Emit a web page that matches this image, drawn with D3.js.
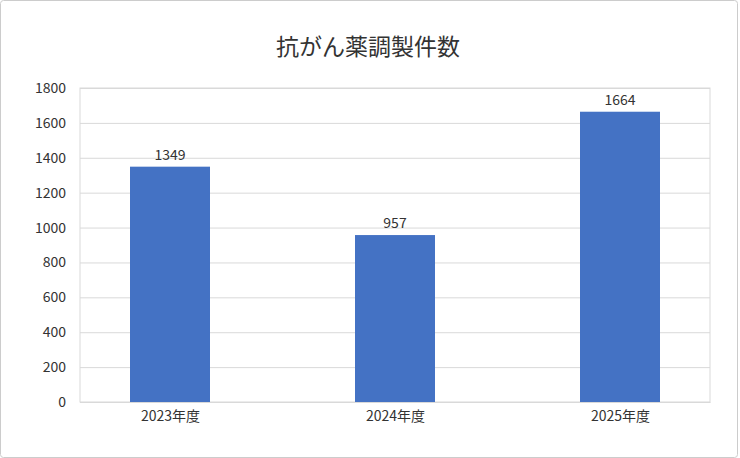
<!DOCTYPE html>
<html>
<head>
<meta charset="utf-8">
<script src="https://cdn.jsdelivr.net/npm/d3@7"></script>
<style>
  body { margin: 0; background: #fff; }
  svg { display: block; font-family: "Noto Sans CJK JP", "Noto Sans", sans-serif; }
</style>
</head>
<body>
<div id="chart"></div>
<script>
const categories = ['2023年度', '2024年度', '2025年度'];
const counts = [1349, 957, 1664];
const yTicks = [0, 200, 400, 600, 800, 1000, 1200, 1400, 1600, 1800];
const title = '抗がん薬調製件数';

const width = 740;
const height = 458;
const margin = { top: 88, right: 30, bottom: 56, left: 80 };
const barWidth = 80;
const barColor = '#4472c4';
const textColor = '#333';
const gridColor = '#d9d9d9';

const svg = d3
  .select('#chart')
  .append('svg')
  .attr('width', width)
  .attr('height', height);

// outer frame
svg
  .append('rect')
  .attr('x', 0.5)
  .attr('y', 0.5)
  .attr('width', width - 3)
  .attr('height', height - 1)
  .attr('rx', 3)
  .attr('fill', '#fff')
  .attr('stroke', '#cccccc');

svg
  .append('text')
  .attr('x', width / 2 - 2)
  .attr('y', 55)
  .attr('text-anchor', 'middle')
  .attr('font-size', 23)
  .attr('fill', textColor)
  .text(title);

const x = d3
  .scalePoint()
  .domain(categories)
  .range([margin.left, width - margin.right])
  .padding(0.4);

const y = d3
  .scaleLinear()
  .domain([0, 1800])
  .range([height - margin.bottom, margin.top]);

// grid + y labels
const yAxis = svg
  .append('g')
  .attr('transform', `translate(${margin.left},0)`)
  .call(
    d3
      .axisLeft(y)
      .tickValues(yTicks)
      .tickFormat(d3.format('d'))
      .tickSize(-(width - margin.left - margin.right))
      .tickPadding(14)
  );
yAxis.select('.domain').remove();
yAxis.selectAll('.tick line').attr('stroke', gridColor);
yAxis
  .selectAll('.tick text')
  .attr('font-size', 14)
  .attr('fill', textColor)
  .attr('font-family', '"Noto Sans CJK JP", sans-serif');

// plot frame
svg
  .append('rect')
  .attr('x', margin.left)
  .attr('y', margin.top)
  .attr('width', width - margin.left - margin.right)
  .attr('height', height - margin.top - margin.bottom)
  .attr('fill', 'none')
  .attr('stroke', gridColor);

svg
  .append('g')
  .selectAll('rect')
  .data(counts)
  .join('rect')
  .attr('x', (d, i) => x(categories[i]) - barWidth / 2)
  .attr('y', (d) => y(d))
  .attr('width', barWidth)
  .attr('height', (d) => y(0) - y(d))
  .attr('fill', barColor);

svg
  .append('g')
  .selectAll('text')
  .data(counts)
  .join('text')
  .attr('x', (d, i) => x(categories[i]))
  .attr('y', (d) => y(d) - 7)
  .attr('text-anchor', 'middle')
  .attr('font-size', 14)
  .attr('fill', textColor)
  .text((d) => d);

// x labels
const xAxis = svg
  .append('g')
  .attr('transform', `translate(0,${height - margin.bottom})`)
  .call(d3.axisBottom(x).tickSize(0).tickPadding(9));
xAxis.select('.domain').attr('stroke', gridColor);
xAxis
  .selectAll('.tick text')
  .attr('font-size', 14)
  .attr('fill', textColor)
  .attr('font-family', '"Noto Sans CJK JP", sans-serif');
</script>
</body>
</html>
